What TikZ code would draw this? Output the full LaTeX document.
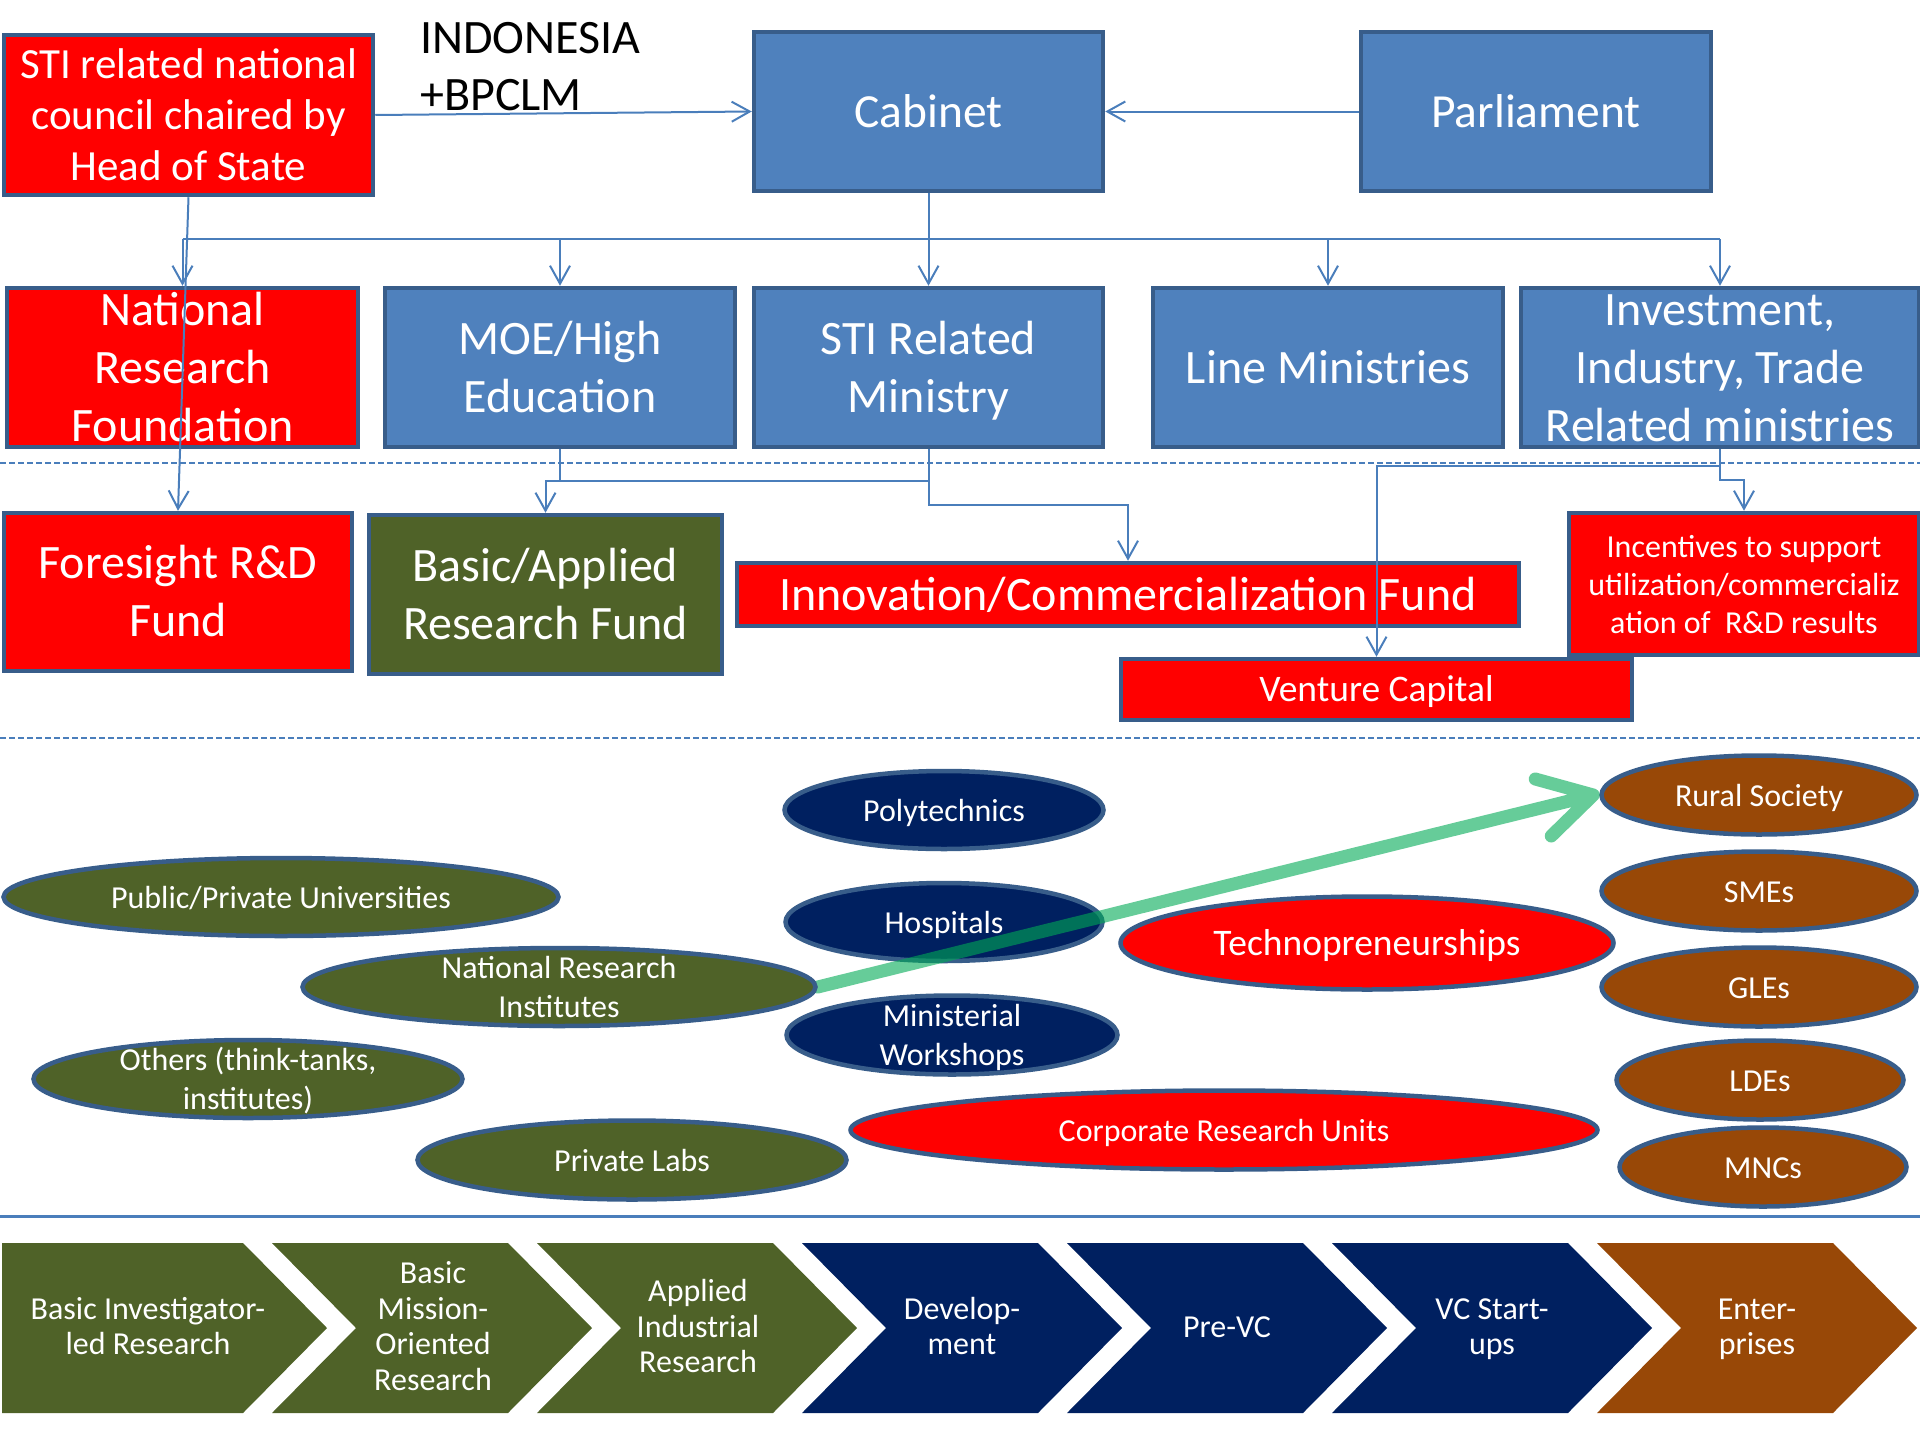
\documentclass[tikz,border=0pt]{standalone}
\usepackage{fontspec}
\setmainfont{Carlito}
\usetikzlibrary{arrows.meta,shapes.geometric}
\definecolor{bluefill}{HTML}{4F81BD}
\definecolor{bordc}{HTML}{385D8A}
\definecolor{connc}{HTML}{4A7EBB}
\definecolor{olivec}{HTML}{4F6228}
\definecolor{navyc}{HTML}{002060}
\definecolor{brownc}{HTML}{984807}
\definecolor{redc}{HTML}{FF0000}
\definecolor{greenc}{RGB}{0,170,85}
\newcommand\sttxt[1]{\strut#1\strut}
\pgfdeclarelayer{front}
\pgfsetlayers{main,front}
\begin{document}
\begin{tikzpicture}[x=1pt,y=-1pt,
  box/.style={rectangle, draw=bordc, line width=4.5pt, inner sep=0pt},
  bluebox/.style={box, fill=bluefill},
  redbox/.style={box, fill=redc},
  olivebox/.style={box, fill=olivec},
  ell/.style={ellipse, draw=bordc, line width=4.5pt, inner sep=0pt},
  txt/.style={text=white, align=center, inner sep=0pt},
  btxt/.style={txt, yshift=-4pt},
  stxt/.style={txt, yshift=-3.5pt},
  f45/.style={font=\fontsize{47.5}{58}\selectfont},
  f44/.style={font=\fontsize{48}{58}\selectfont},
  f43/.style={font=\fontsize{43}{51}\selectfont},
  f46/.style={font=\fontsize{48}{58}\selectfont},
  f36/.style={font=\fontsize{37.5}{44}\selectfont},
  f31/.style={font=\fontsize{32}{39}\selectfont},
  finc/.style={font=\fontsize{32}{38}\selectfont},
  fch/.style={font=\fontsize{32}{35.5}\selectfont},
  cline/.style={draw=connc, line width=2pt},
  conn/.style={cline, -{Straight Barb[length=18pt,width=20pt]}},
  dashline/.style={draw=connc, line width=2pt, dash pattern=on 6pt off 3pt},
  greenarrow/.style={draw=greenc, draw opacity=0.6, line width=13pt, line cap=round, line join=round}
]
\useasboundingbox (0,0) rectangle (1920,1440);

% ---------- separators ----------
\draw[dashline] (0,463) -- (1920,463);
\draw[dashline] (0,738) -- (1920,738);
\draw[connc, line width=3pt] (0,1216) -- (1920,1216);

% ---------- top row ----------
\node[redbox, minimum width=369pt, minimum height=160pt] (council) at (188.5,115) {};
\node[btxt, f43] (council-t) at (council) {\sttxt{STI related national\\council chaired by\\Head of State}};
\node[anchor=north west, inner sep=0pt, align=left, font=\fontsize{48}{57}\selectfont] (indo) at (420,13) {\sttxt{INDONESIA\\+BPCLM}};
\node[bluebox, minimum width=349pt, minimum height=159pt] (cabinet) at (928.5,111.5) {};
\node[btxt, f45] (cabinet-t) at (cabinet) {\sttxt{Cabinet}};
\node[bluebox, minimum width=350pt, minimum height=159pt] (parliament) at (1536,111.5) {};
\node[btxt, f45] (parliament-t) at (parliament) {\sttxt{Parliament}};

% ---------- ministries row ----------
\node[redbox, minimum width=351pt, minimum height=159pt] (nrf) at (182.5,367.5) {};
\node[btxt, f44] (nrf-t) at (nrf) {\sttxt{National\\Research\\Foundation}};
\node[bluebox, minimum width=350pt, minimum height=159pt] (moe) at (560,367.5) {};
\node[btxt, f44] (moe-t) at (moe) {\sttxt{MOE/High\\Education}};
\node[bluebox, minimum width=349pt, minimum height=159pt] (stimin) at (928.5,367.5) {};
\node[btxt, f44] (stimin-t) at (stimin) {\sttxt{STI Related\\Ministry}};
\node[bluebox, minimum width=350pt, minimum height=159pt] (linemin) at (1328,367.5) {};
\node[btxt, f44] (linemin-t) at (linemin) {\sttxt{Line Ministries}};
\node[bluebox, minimum width=398pt, minimum height=159pt] (invest) at (1720,367.5) {};
\node[btxt, f44] (invest-t) at (invest) {\sttxt{Investment,\\Industry, Trade\\Related ministries}};

% ---------- funds row ----------
\node[redbox, minimum width=348pt, minimum height=158pt] (foresight) at (178,592) {};
\node[btxt, f46] (foresight-t) at (foresight) {\sttxt{Foresight R\&D\\Fund}};
\node[olivebox, minimum width=353pt, minimum height=159pt] (basic) at (545.5,594.5) {};
\node[btxt, f46] (basic-t) at (basic) {\sttxt{Basic/Applied\\Research Fund}};
\node[redbox, minimum width=782pt, minimum height=63pt] (innov) at (1128,594.5) {};
\node[btxt, f46] (innov-t) at (innov) {\sttxt{Innovation/Commercialization Fund}};
\node[redbox, minimum width=350pt, minimum height=142pt] (incent) at (1744,584) {};
\node[stxt, finc] (incent-t) at (incent) {\sttxt{Incentives to support\\utilization/commercializ\\ation of\ \ R\&D results}};
\node[redbox, minimum width=511pt, minimum height=61pt] (vc) at (1376.5,689.5) {};
\node[stxt, f36] (vc-t) at (vc) {\sttxt{Venture Capital}};

% ---------- connectors ----------
\coordinate (bus) at (0,239);
\coordinate (j1) at (0,481);
\coordinate (j2) at (0,505);
\coordinate (j3) at (0,466);
\coordinate (j4) at (0,480);
\draw[conn] (council.east) -- (cabinet.west);
\draw[conn] (parliament.west) -- (cabinet.east);
\draw[cline] (cabinet.south) -- (cabinet.south |- bus);
\draw[cline] (nrf.north |- bus) -- (invest.north |- bus);
\foreach \n in {nrf,moe,stimin,linemin,invest}
  \draw[conn] (\n.north |- bus) -- (\n.north);
\draw[conn] (council.south) -- (foresight.north);
\draw[cline] (moe.south) -- (moe.south |- j1);
\draw[conn] (stimin.south) -- (stimin.south |- j1) -- (basic.north |- j1) -- (basic.north);
\draw[conn] (stimin.south |- j1) -- (stimin.south |- j2) -- (innov.north |- j2) -- (innov.north);
\draw[conn] (invest.south) -- (invest.south |- j3) -- (vc.north |- j3) -- (vc.north);
\draw[conn] (invest.south |- j3) -- (invest.south |- j4) -- (incent.north |- j4) -- (incent.north);

% ---------- organisations ----------
\node[ell, fill=navyc, minimum width=319pt, minimum height=78pt] (poly) at (944,810) {};
\node[stxt, f31] (poly-t) at (poly) {\sttxt{Polytechnics}};
\node[ell, fill=navyc, minimum width=317pt, minimum height=78pt] (hosp) at (944,922) {};
\node[stxt, f31] (hosp-t) at (hosp) {\sttxt{Hospitals}};
\node[ell, fill=navyc, minimum width=331pt, minimum height=79pt] (minw) at (952,1035) {};
\node[stxt, f31] (minw-t) at (minw) {\sttxt{Ministerial\\Workshops}};
\node[ell, fill=olivec, minimum width=555pt, minimum height=78pt] (pub) at (281,897) {};
\node[stxt, f31] (pub-t) at (pub) {\sttxt{Public/Private Universities}};
\begin{pgfonlayer}{front}
\node[ell, fill=olivec, minimum width=513pt, minimum height=78pt] (nri) at (559,987) {};
\node[stxt, f31] (nri-t) at (nri) {\sttxt{National Research\\Institutes}};
\end{pgfonlayer}
\node[ell, fill=olivec, minimum width=429pt, minimum height=78pt] (others) at (248,1079) {};
\node[stxt, f31] (others-t) at (others) {\sttxt{Others (think-tanks,\\institutes)}};
\node[ell, fill=olivec, minimum width=429pt, minimum height=79pt] (plabs) at (632,1160) {};
\node[stxt, f31] (plabs-t) at (plabs) {\sttxt{Private Labs}};
\node[ell, fill=redc, minimum width=493pt, minimum height=93pt] (techno) at (1367,943) {};
\node[stxt, f36] (techno-t) at (techno) {\sttxt{Technopreneurships}};
\node[ell, fill=redc, minimum width=747pt, minimum height=79pt] (corp) at (1224,1130) {};
\node[stxt, f31] (corp-t) at (corp) {\sttxt{Corporate Research Units}};
\node[ell, fill=brownc, minimum width=315pt, minimum height=79pt] (rural) at (1759,795) {};
\node[stxt, f31] (rural-t) at (rural) {\sttxt{Rural Society}};
\node[ell, fill=brownc, minimum width=315pt, minimum height=79pt] (smes) at (1759,891) {};
\node[stxt, f31] (smes-t) at (smes) {\sttxt{SMEs}};
\node[ell, fill=brownc, minimum width=315pt, minimum height=79pt] (gles) at (1759,987) {};
\node[stxt, f31] (gles-t) at (gles) {\sttxt{GLEs}};
\node[ell, fill=brownc, minimum width=287pt, minimum height=79pt] (ldes) at (1760,1080) {};
\node[stxt, f31] (ldes-t) at (ldes) {\sttxt{LDEs}};
\node[ell, fill=brownc, minimum width=287pt, minimum height=79pt] (mncs) at (1763,1167) {};
\node[stxt, f31] (mncs-t) at (mncs) {\sttxt{MNCs}};

% green arrow
\draw[greenarrow] (nri.east) -- ([xshift=-6pt]rural.west) -- +(-58,-16)
  ([xshift=-6pt]rural.west) -- +(-42,41);

% ---------- chevrons ----------
\fill[olivec] (2,1243) -- (243,1243) -- (327,1328) -- (243,1413) -- (2,1413) -- cycle;
\foreach \i/\c in {1/olivec,2/olivec,3/navyc,4/navyc,5/navyc,6/brownc} {
  \pgfmathsetmacro\L{7+265*\i}
  \fill[\c] (\L,1243) -- ++(236,0) -- ++(84,85) -- ++(-84,85) -- ++(-236,0) -- ++(84,-85) -- cycle;
}
\node[stxt, fch, yshift=1.5pt] (ch1) at (148,1328) {\sttxt{Basic Investigator-\\led Research}};
\node[stxt, fch, yshift=1.5pt] (ch2) at (433,1328) {\sttxt{Basic\\Mission-\\Oriented\\Research}};
\node[stxt, fch, yshift=1.5pt] (ch3) at (698,1328) {\sttxt{Applied\\Industrial\\Research}};
\node[stxt, fch, yshift=1.5pt] (ch4) at (962,1328) {\sttxt{Develop-\\ment}};
\node[stxt, fch, yshift=1.5pt] (ch5) at (1227,1328) {\sttxt{Pre-VC}};
\node[stxt, fch, yshift=1.5pt] (ch6) at (1492,1328) {\sttxt{VC Start-\\ups}};
\node[stxt, fch, yshift=1.5pt] (ch7) at (1757,1328) {\sttxt{Enter-\\prises}};
\end{tikzpicture}
\end{document}
